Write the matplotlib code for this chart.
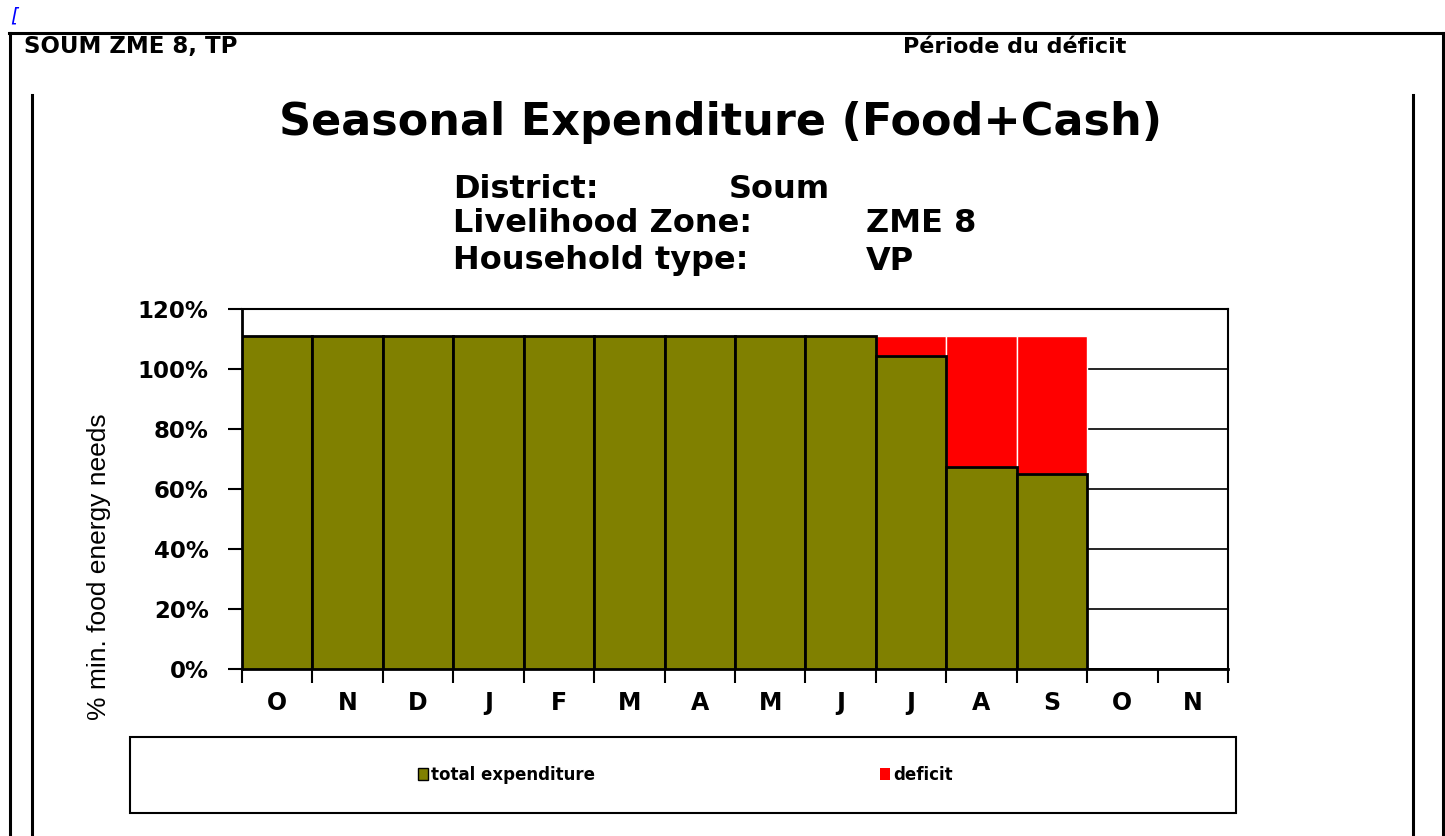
import matplotlib
matplotlib.use("Agg")
import matplotlib.pyplot as plt
from matplotlib.lines import Line2D
from matplotlib.patches import Rectangle, Patch

# donnees
mois = ["O", "N", "D", "J", "F", "M", "A", "M", "J", "J", "A", "S", "O", "N"]
depense_totale = [111, 111, 111, 111, 111, 111, 111, 111, 111, 104.3, 67.3, 65, 0, 0]
deficit = [0, 0, 0, 0, 0, 0, 0, 0, 0, 6.7, 43.7, 46, 0, 0]
y_ticks = [0, 20, 40, 60, 80, 100, 120]

W, H = 1445, 836
fig = plt.figure(figsize=(W / 100, H / 100), dpi=100)

def fx(px):
    return px / W

def fy(py):
    return 1 - py / H

large = ["DejaVu Sans"]
narrow = ["Liberation Sans Narrow", "Liberation Sans", "DejaVu Sans"]

# cadre de la page
for (x0, y0, x1, y1, lw) in [(9, 33, 1445, 33, 2.2), (10, 33, 10, 836, 2.2), (1443, 33, 1443, 836, 2.2),
                             (32, 95, 32, 836, 2.2), (1413, 95, 1413, 836, 2.2)]:
    fig.add_artist(Line2D([fx(x0), fx(x1)], [fy(y0), fy(y1)], color="black", lw=lw))

fig.text(fx(10), fy(16), "[", color="blue", fontsize=14, style="italic", va="center")
fig.text(fx(24), fy(47), "SOUM ZME 8, TP", fontsize=16.5, fontweight="bold", family=large, va="center")
fig.text(fx(903), fy(47), "Période du déficit", fontsize=16, fontweight="bold", family=large, va="center")

# titre
fig.text(fx(721), fy(122), "Seasonal Expenditure (Food+Cash)", fontsize=32, fontweight="bold",
         family=large, ha="center", va="center")
infos = [("District:", "Soum", 729, 189), ("Livelihood Zone:", "ZME 8", 866, 224),
         ("Household type:", "VP", 866, 261)]
for lab, val, xv, yv in infos:
    fig.text(fx(453), fy(yv), lab, fontsize=23, fontweight="bold", family=large, va="center")
    fig.text(fx(xv), fy(yv), val, fontsize=23, fontweight="bold", family=large, va="center")

# graphique
ax = fig.add_axes([fx(242), fy(669), fx(1228) - fx(242), (669 - 309) / H])
x = list(range(len(mois)))
ax.bar(x, depense_totale, width=1.0, color="#808000", edgecolor="black", linewidth=2, zorder=3)
ax.bar(x, deficit, width=1.0, bottom=depense_totale, color="#ff0000", edgecolor="white", linewidth=1, zorder=2)

ax.set_xlim(-0.5, len(mois) - 0.5)
ax.set_ylim(0, 120)
ax.set_yticks(y_ticks)
ax.set_yticklabels([f"{v}%" for v in y_ticks], fontsize=16.5, fontweight="bold", family=large)
ax.set_xticks(x)
ax.set_xticklabels(mois, fontsize=17, fontweight="bold", family=large)
ax.tick_params(axis="x", length=0, pad=16)
ax.set_xticks([i - 0.5 for i in range(len(mois) + 1)], minor=True)
ax.tick_params(axis="x", which="minor", length=10, width=1.5, direction="out")
ax.tick_params(axis="y", length=10, width=1.5, direction="out", pad=14)
ax.yaxis.grid(True, color="black", lw=1.2, zorder=0)
ax.set_axisbelow(True)
for s in ax.spines.values():
    s.set_linewidth(1.5)
ax.spines["left"].set_linewidth(2)
ax.spines["bottom"].set_linewidth(2)
ax.set_ylabel("% min. food energy needs", fontsize=19, family=narrow)
ax.yaxis.set_label_coords(-0.145, 0.285)
ax.yaxis.label.set_va("center")

# legende
fig.add_artist(Rectangle((fx(130), fy(813)), fx(1236) - fx(130), (813 - 737) / H,
                         transform=fig.transFigure, fill=False, edgecolor="black", lw=1.5))
handles = [Patch(facecolor="#808000", edgecolor="black", label="total expenditure"),
           Patch(facecolor="#ff0000", label="deficit")]
fig.legend(handles=handles, loc="center left", bbox_to_anchor=(fx(403), fy(775)), ncol=2,
           frameon=False, handlelength=0.6, handleheight=0.7, handletextpad=0.2,
           columnspacing=17.1, prop={"family": large, "weight": "bold", "size": 12})

fig.savefig("out.png", dpi=100)
